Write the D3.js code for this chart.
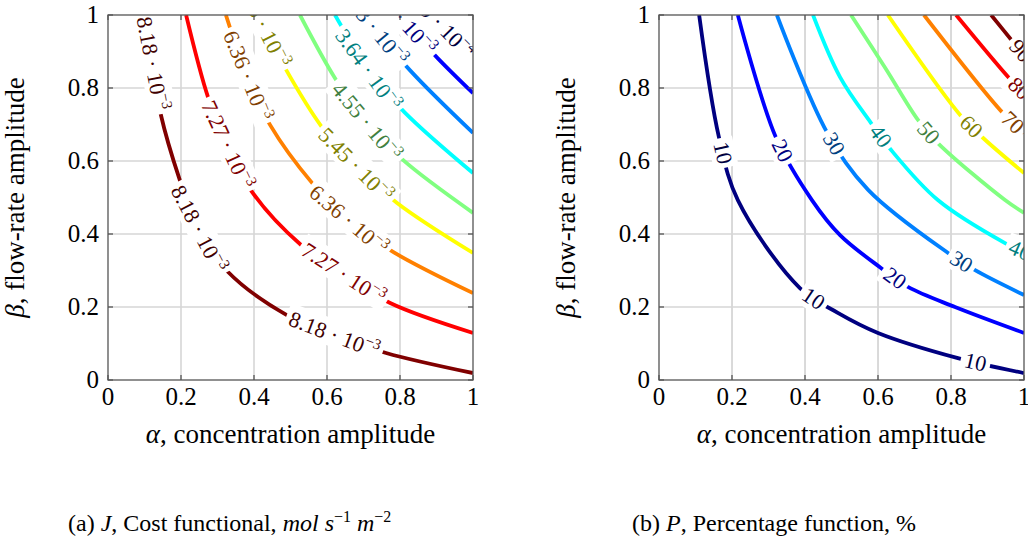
<!DOCTYPE html>
<html>
<head>
<meta charset="utf-8">
<script src="https://cdn.jsdelivr.net/npm/d3@7"></script>
<style>
  body { margin: 0; background: #fff; }
  svg text { font-family: 'Liberation Serif', 'DejaVu Serif', serif; }
</style>
</head>
<body>
<svg id="fig" width="1028" height="547" font-family="Liberation Serif, DejaVu Serif, serif"></svg>
<script>
// tick values / labels shared by both panels
const ticks = [0, 0.2, 0.4, 0.6, 0.8, 1];
const tickLabels = ["0", "0.2", "0.4", "0.6", "0.8", "1"];

// (a) J contour levels, low -> high
const jMantissa = ["9.09", "1.82", "2.73", "3.64", "4.55", "5.45", "6.36", "7.27", "8.18"];
const jExponent = ["4", "3", "3", "3", "3", "3", "3", "3", "3"];

// contour lines, [alpha, beta]
const jCurves = [
  [[0.885, 1], [0.942, 0.942], [1, 0.885]],
  [[0.795, 1], [0.903, 0.882], [1, 0.786]],
  [[0.70, 1], [0.827, 0.849], [1, 0.677]],
  [[0.622, 1], [0.641, 0.967], [0.712, 0.849], [0.814, 0.732], [1, 0.567]],
  [[0.526, 1], [0.622, 0.827], [0.707, 0.707], [0.808, 0.603], [1, 0.458]],
  [[0.41, 1], [0.485, 0.855], [0.586, 0.693], [0.677, 0.589], [0.792, 0.485], [1, 0.348]],
  [[0.323, 1], [0.381, 0.833], [0.444, 0.699], [0.559, 0.540], [0.658, 0.438], [0.781, 0.351], [1, 0.238]],
  [[0.214, 1], [0.274, 0.775], [0.326, 0.644], [0.397, 0.512], [0.529, 0.370], [0.645, 0.29], [0.773, 0.211], [1, 0.129]],
  [[0.093, 1], [0.121, 0.868], [0.145, 0.726], [0.195, 0.553], [0.247, 0.414], [0.329, 0.296], [0.49, 0.178], [0.619, 0.123], [0.762, 0.074], [1, 0.019]]
];
// where the inline labels sit
const jLabelAt = [
  [[0.905, 0.985]],
  [[0.80, 0.995]],
  [[0.72, 0.965]],
  [[0.712, 0.849]],
  [[0.707, 0.707]],
  [[0.42, 0.975], [0.677, 0.589]],
  [[0.381, 0.833], [0.658, 0.438]],
  [[0.326, 0.644], [0.645, 0.29]],
  [[0.121, 0.868], [0.247, 0.414], [0.619, 0.123]]
];

// (b) P contour levels (%)
const pLevels = [10, 20, 30, 40, 50, 60, 70, 80, 90];
const pCurves = [
  [[0.110, 1], [0.164, 0.666], [0.216, 0.493], [0.386, 0.252], [0.490, 0.184], [0.6, 0.129], [0.819, 0.060], [1, 0.019]],
  [[0.216, 1], [0.321, 0.663], [0.419, 0.493], [0.496, 0.397], [0.608, 0.307], [0.682, 0.255], [0.811, 0.2], [1, 0.129]],
  [[0.323, 1], [0.460, 0.679], [0.573, 0.521], [0.792, 0.348], [0.866, 0.301], [1, 0.233]],
  [[0.422, 1], [0.496, 0.830], [0.581, 0.704], [0.636, 0.630], [0.764, 0.493], [0.948, 0.375], [1, 0.35]],
  [[0.526, 1], [0.62, 0.855], [0.710, 0.712], [0.764, 0.649], [0.948, 0.493], [1, 0.458]],
  [[0.627, 1], [0.825, 0.726], [0.888, 0.663], [1, 0.567]],
  [[0.726, 1], [0.940, 0.734], [1, 0.677]],
  [[0.814, 1], [0.964, 0.822], [1, 0.786]],
  [[0.910, 1], [0.970, 0.926], [1, 0.89]]
];
const pLabelAt = [
  [[0.175, 0.622], [0.422, 0.222], [0.866, 0.047]],
  [[0.332, 0.625], [0.647, 0.279]],
  [[0.479, 0.647], [0.827, 0.321]],
  [[0.605, 0.666], [0.989, 0.356]],
  [[0.737, 0.677]],
  [[0.852, 0.690]],
  [[0.967, 0.704]],
  [[0.984, 0.795]],
  [[0.984, 0.896]]
];

// pgfplots "jet"
const jet = d3.scaleLinear()
  .domain([0, 1, 3, 5, 7, 8])
  .range(["#000080", "#0000ff", "#00ffff", "#ffff00", "#ff0000", "#800000"]);
const labelColor = c => d3.interpolateRgb(c, "#000")(0.5);

const svg = d3.select("#fig");
const SIZE = 365, TOP = 15, BOTTOM = 380;

function drawPanel(x0, id, curves, labelAt, buildLabel, gridV, gridH) {
  const x = d3.scaleLinear().domain([0, 1]).range([x0, x0 + SIZE]);
  const y = d3.scaleLinear().domain([0, 1]).range([BOTTOM, TOP]);
  const g = svg.append("g");

  svg.append("defs").append("clipPath").attr("id", id)
    .append("rect").attr("x", x0).attr("y", TOP).attr("width", SIZE).attr("height", SIZE);

  // grid
  g.selectAll(".gv").data(ticks.slice(1, -1)).enter().append("line")
    .attr("x1", d => x(d)).attr("x2", d => x(d)).attr("y1", TOP).attr("y2", BOTTOM)
    .attr("stroke", gridV.c).attr("stroke-width", gridV.w);
  g.selectAll(".gh").data(ticks.slice(1, -1)).enter().append("line")
    .attr("y1", d => y(d)).attr("y2", d => y(d)).attr("x1", x0).attr("x2", x0 + SIZE)
    .attr("stroke", gridH.c).attr("stroke-width", gridH.w);

  const line = d3.line().x(d => x(d[0])).y(d => y(d[1])).curve(d3.curveCatmullRom.alpha(0.5));
  const cg = g.append("g").attr("clip-path", `url(#${id})`);
  const paths = cg.selectAll("path").data(curves).enter().append("path")
    .attr("d", line)
    .attr("fill", "none")
    .attr("stroke", (d, i) => jet(i))
    .attr("stroke-width", 3.8);

  // inline labels with a white box cutting the line
  const lg = g.append("g").attr("clip-path", `url(#${id})`);
  paths.each(function(d, i) {
    const node = this;
    const L = node.getTotalLength();
    labelAt[i].forEach(pos => {
      const tx = x(pos[0]), ty = y(pos[1]);
      let best = 0, bd = Infinity;
      for (let l = 0; l <= L; l += 0.5) {
        const p = node.getPointAtLength(l);
        const dd = (p.x - tx) ** 2 + (p.y - ty) ** 2;
        if (dd < bd) { bd = dd; best = l; }
      }
      const p = node.getPointAtLength(best);
      const a = node.getPointAtLength(Math.max(0, best - 4));
      const b = node.getPointAtLength(Math.min(L, best + 4));
      let ang = Math.atan2(b.y - a.y, b.x - a.x) * 180 / Math.PI;
      if (ang > 90) ang -= 180;
      if (ang < -90) ang += 180;
      const lab = lg.append("g").attr("transform", `translate(${p.x},${p.y}) rotate(${ang})`);
      const bg = lab.append("rect").attr("fill", "#fff");
      const t = lab.append("text").attr("text-anchor", "middle")
        .attr("fill", labelColor(jet(i))).attr("font-size", 22).attr("y", 7);
      buildLabel(t, i);
      const bb = t.node().getBBox();
      bg.attr("x", bb.x - 4).attr("y", bb.y).attr("width", bb.width + 8).attr("height", bb.height);
    });
  });

  // frame + ticks
  g.append("rect").attr("x", x0).attr("y", TOP).attr("width", SIZE).attr("height", SIZE)
    .attr("fill", "none").attr("stroke", "#555").attr("stroke-width", 1.3);
  ticks.forEach(t => {
    g.append("line").attr("x1", x(t)).attr("x2", x(t)).attr("y1", BOTTOM).attr("y2", BOTTOM - 5).attr("stroke", "#555").attr("stroke-width", 1.3);
    g.append("line").attr("x1", x(t)).attr("x2", x(t)).attr("y1", TOP).attr("y2", TOP + 5).attr("stroke", "#555").attr("stroke-width", 1.3);
    g.append("line").attr("y1", y(t)).attr("y2", y(t)).attr("x1", x0).attr("x2", x0 + 5).attr("stroke", "#555").attr("stroke-width", 1.3);
    g.append("line").attr("y1", y(t)).attr("y2", y(t)).attr("x1", x0 + SIZE).attr("x2", x0 + SIZE - 5).attr("stroke", "#555").attr("stroke-width", 1.3);
  });

  g.selectAll(".xt").data(ticks).enter().append("text")
    .attr("x", d => x(d)).attr("y", BOTTOM + 25).attr("text-anchor", "middle")
    .attr("font-size", 25).text((d, i) => tickLabels[i]);
  g.selectAll(".yt").data(ticks).enter().append("text")
    .attr("x", x0 - 9).attr("y", d => y(d) + 8).attr("text-anchor", "end")
    .attr("font-size", 25).text((d, i) => tickLabels[i]);

  const xl = g.append("text").attr("x", x0 + SIZE / 2).attr("y", 443)
    .attr("text-anchor", "middle").attr("font-size", 27);
  xl.append("tspan").attr("font-style", "italic").text("α");
  xl.append("tspan").text(", concentration amplitude");

  const yl = g.append("text")
    .attr("transform", `translate(${x0 - 84},${(TOP + BOTTOM) / 2}) rotate(-90)`)
    .attr("text-anchor", "middle").attr("font-size", 27);
  yl.append("tspan").attr("font-style", "italic").text("β");
  yl.append("tspan").text(", flow-rate amplitude");
}

drawPanel(108, "clipA", jCurves, jLabelAt, (t, i) => {
  t.append("tspan").text(jMantissa[i] + " \u00b7 10");
  t.append("tspan").attr("font-size", 15).attr("dy", -9).text("\u2212" + jExponent[i]);
}, { c: "#d6d6d6", w: 1.6 }, { c: "#d6d6d6", w: 1.6 });

drawPanel(659, "clipB", pCurves, pLabelAt, (t, i) => {
  t.text(pLevels[i]);
}, { c: "#b4b4b4", w: 1 }, { c: "#d6d6d6", w: 1.6 });

// captions
const capA = svg.append("text").attr("x", 68).attr("y", 531).attr("font-size", 24);
capA.append("tspan").text("(a) ");
capA.append("tspan").attr("font-style", "italic").text("J");
capA.append("tspan").text(", Cost functional, ");
capA.append("tspan").attr("font-style", "italic").text("mol s");
capA.append("tspan").attr("font-size", 16).attr("dy", -9).text("\u22121");
capA.append("tspan").attr("font-style", "italic").attr("dy", 9).text(" m");
capA.append("tspan").attr("font-size", 16).attr("dy", -9).text("\u22122");

const capB = svg.append("text").attr("x", 632).attr("y", 531).attr("font-size", 24);
capB.append("tspan").text("(b) ");
capB.append("tspan").attr("font-style", "italic").text("P");
capB.append("tspan").text(", Percentage function, %");
</script>
</body>
</html>
